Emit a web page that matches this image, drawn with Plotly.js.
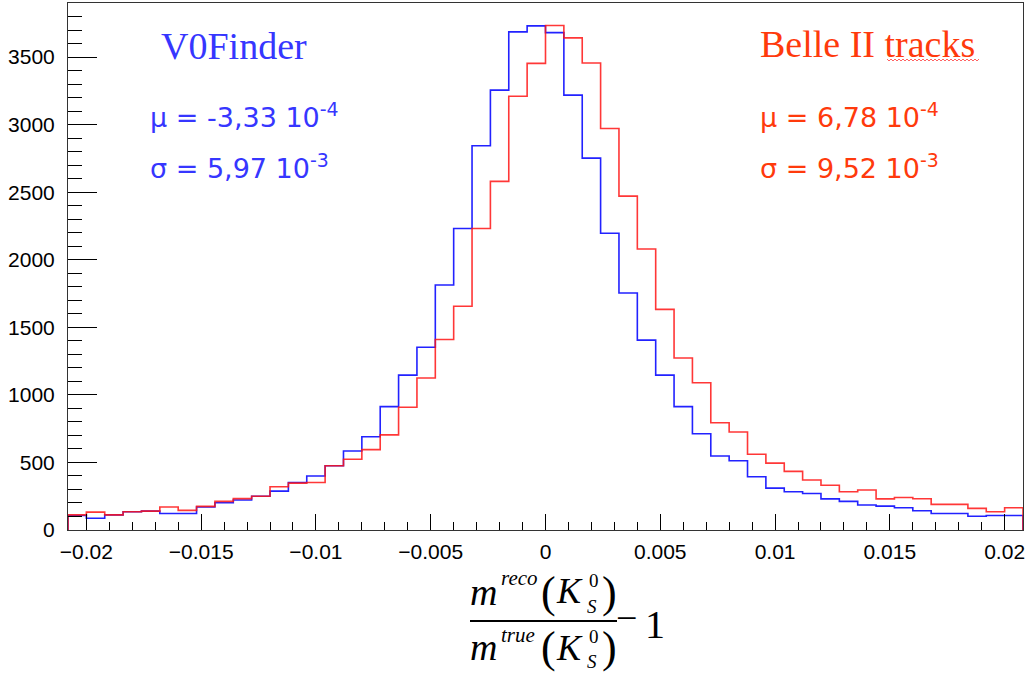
<!DOCTYPE html>
<html>
<head>
<meta charset="utf-8">
<script src="https://cdn.plot.ly/plotly-3.0.1.min.js"></script>
<style>
  html, body { margin: 0; padding: 0; background: #ffffff; }
  #chart { width: 1026px; height: 677px; }
</style>
</head>
<body>
<div id="chart"></div>
<script>
// ---- data (bin contents) ----
const binLow = -0.0208;
const binWidth = 0.0008;
const v0FinderCounts = [
  107, 87, 112, 135, 140, 122, 122, 170, 202, 222,
  250, 288, 352, 400, 476, 585, 690, 913, 1146, 1352,
  1813, 2231, 2844, 3255, 3686, 3731, 3681, 3218, 2752, 2196,
  1754, 1405, 1146, 913, 712, 548, 513, 394, 310, 283,
  270, 230, 212, 185, 177, 165, 142, 122, 122, 102,
  107, 107
];
const belleTracksCounts = [
  112, 132, 112, 135, 140, 170, 145, 175, 212, 232,
  250, 320, 347, 352, 476, 524, 595, 704, 908, 1125,
  1410, 1656, 2231, 2580, 3210, 3453, 3734, 3642, 3456, 2971,
  2471, 2080, 1633, 1273, 1090, 794, 725, 561, 495, 434,
  370, 331, 283, 296, 230, 240, 231, 190, 190, 160,
  135, 165
];
const xTickVals = [-0.02, -0.015, -0.01, -0.005, 0, 0.005, 0.01, 0.015, 0.02];
const xTickText = ['\u22120.02', '\u22120.015', '\u22120.01', '\u22120.005', '0', '0.005', '0.01', '0.015', '0.02'];
const yTickVals = [0, 500, 1000, 1500, 2000, 2500, 3000, 3500];

// step outline of a histogram (ROOT style)
function stepTrace(counts, color, name) {
  const xs = [binLow];
  const ys = [0];
  for (let i = 0; i < counts.length; i++) {
    xs.push(binLow + i * binWidth);
    ys.push(counts[i]);
  }
  xs.push(binLow + counts.length * binWidth);
  ys.push(0);
  return {
    type: 'scatter', mode: 'lines', x: xs, y: ys, name: name,
    line: { shape: 'hv', color: color, width: 1.6 },
    hoverinfo: 'skip', showlegend: false
  };
}

const traces = [
  stepTrace(v0FinderCounts, 'rgba(10,10,255,0.9)', 'V0Finder'),
  stepTrace(belleTracksCounts, 'rgba(255,20,20,0.85)', 'Belle II tracks')
];

// ---- layout helpers (pixel -> paper) ----
const L = 68, R = 1023, T = 3, B = 530;
const px = x => (x - L) / (R - L);
const py = y => (B - y) / (B - T);

function txt(text, left, baseline, size, color, family) {
  const desc = 0.22 * size;
  return {
    text: text, xref: 'paper', yref: 'paper',
    x: px(left), y: py(baseline + desc),
    xanchor: 'left', yanchor: 'bottom', showarrow: false,
    borderpad: 0, borderwidth: 0,
    font: { family: family || 'Liberation Serif', size: size, color: color || '#000' }
  };
}

const blueTxt = '#3636ff';
const redTxt = '#ff3a0c';
const serif = 'Liberation Serif';
const sans = 'Liberation Sans';
const statFont = 'DejaVu Sans';

const annotations = [
  txt('V0Finder', 161, 59, 38, blueTxt, serif),
  txt('\u03bc = -3,33 10<sup>-4</sup>', 150, 127, 27, blueTxt, statFont),
  txt('\u03c3 = 5,97 10<sup>-3</sup>', 150, 178, 27, blueTxt, statFont),
  txt('Belle II tracks', 760, 57, 38, redTxt, serif),
  txt('\u03bc = 6,78 10<sup>-4</sup>', 760, 127, 27, redTxt, statFont),
  txt('\u03c3 = 9,52 10<sup>-3</sup>', 760, 178, 27, redTxt, statFont),
  // x-axis title: m^reco(K_S^0)/m^true(K_S^0) - 1
  txt('<i>m</i>', 470, 605, 38),
  txt('<i>reco</i>', 501, 585, 21),
  txt('(', 541, 607, 44),
  txt('<i>K</i>', 556, 603, 36),
  txt('0', 589, 587, 19),
  txt('<i>S</i>', 587, 613, 19),
  txt(')', 602, 607, 44),
  txt('<i>m</i>', 470, 660, 38),
  txt('<i>true</i>', 501, 642, 21),
  txt('(', 541, 662, 44),
  txt('<i>K</i>', 556, 660, 36),
  txt('0', 589, 643, 19),
  txt('<i>S</i>', 587, 668, 19),
  txt(')', 602, 662, 44),
  txt('\u2212', 616, 631, 38),
  txt('1', 645, 638, 40)
];

// wavy spell-check underline under "tracks"
let wave = 'M ' + px(887) + ',' + py(59);
for (let xw = 887, k = 0; xw < 978; xw += 2, k++) {
  wave += ' L ' + px(xw + 2) + ',' + py(k % 2 === 0 ? 61 : 59);
}

const shapes = [
  { type: 'line', xref: 'paper', yref: 'paper', x0: px(470), x1: px(617), y0: py(621), y1: py(621),
    line: { color: '#000', width: 2 } },
  { type: 'path', xref: 'paper', yref: 'paper', path: wave,
    line: { color: 'rgba(255,60,60,0.8)', width: 1 } }
];

const layout = {
  width: 1026, height: 677,
  margin: { l: L, r: 1026 - R, t: T, b: 677 - B, pad: 0 },
  paper_bgcolor: '#ffffff', plot_bgcolor: '#ffffff',
  showlegend: false,
  xaxis: {
    range: [binLow, binLow + v0FinderCounts.length * binWidth],
    tickmode: 'array', tickvals: xTickVals, ticktext: xTickText,
    ticks: 'inside', ticklen: 16, tickwidth: 1, tickcolor: '#000',
    minor: { ticks: 'inside', ticklen: 8, dtick: 0.001, tick0: 0, tickcolor: '#000', tickwidth: 1, showgrid: false },
    showgrid: false, zeroline: false,
    showline: true, linecolor: '#333', linewidth: 1, mirror: true,
    tickfont: { family: sans, size: 21, color: '#000' },
    ticklabelstandoff: 3
  },
  yaxis: {
    range: [0, 3900],
    tickmode: 'array', tickvals: yTickVals,
    ticks: 'inside', ticklen: 29, tickwidth: 1, tickcolor: '#000',
    minor: { ticks: 'inside', ticklen: 14, dtick: 100, tick0: 0, tickcolor: '#000', tickwidth: 1, showgrid: false },
    showgrid: false, zeroline: false,
    showline: true, linecolor: '#333', linewidth: 1, mirror: true,
    tickfont: { family: sans, size: 21, color: '#000' },
    ticklabelstandoff: 8
  },
  annotations: annotations,
  shapes: shapes
};

Plotly.newPlot('chart', traces, layout, { displayModeBar: false, staticPlot: true });
</script>
</body>
</html>
